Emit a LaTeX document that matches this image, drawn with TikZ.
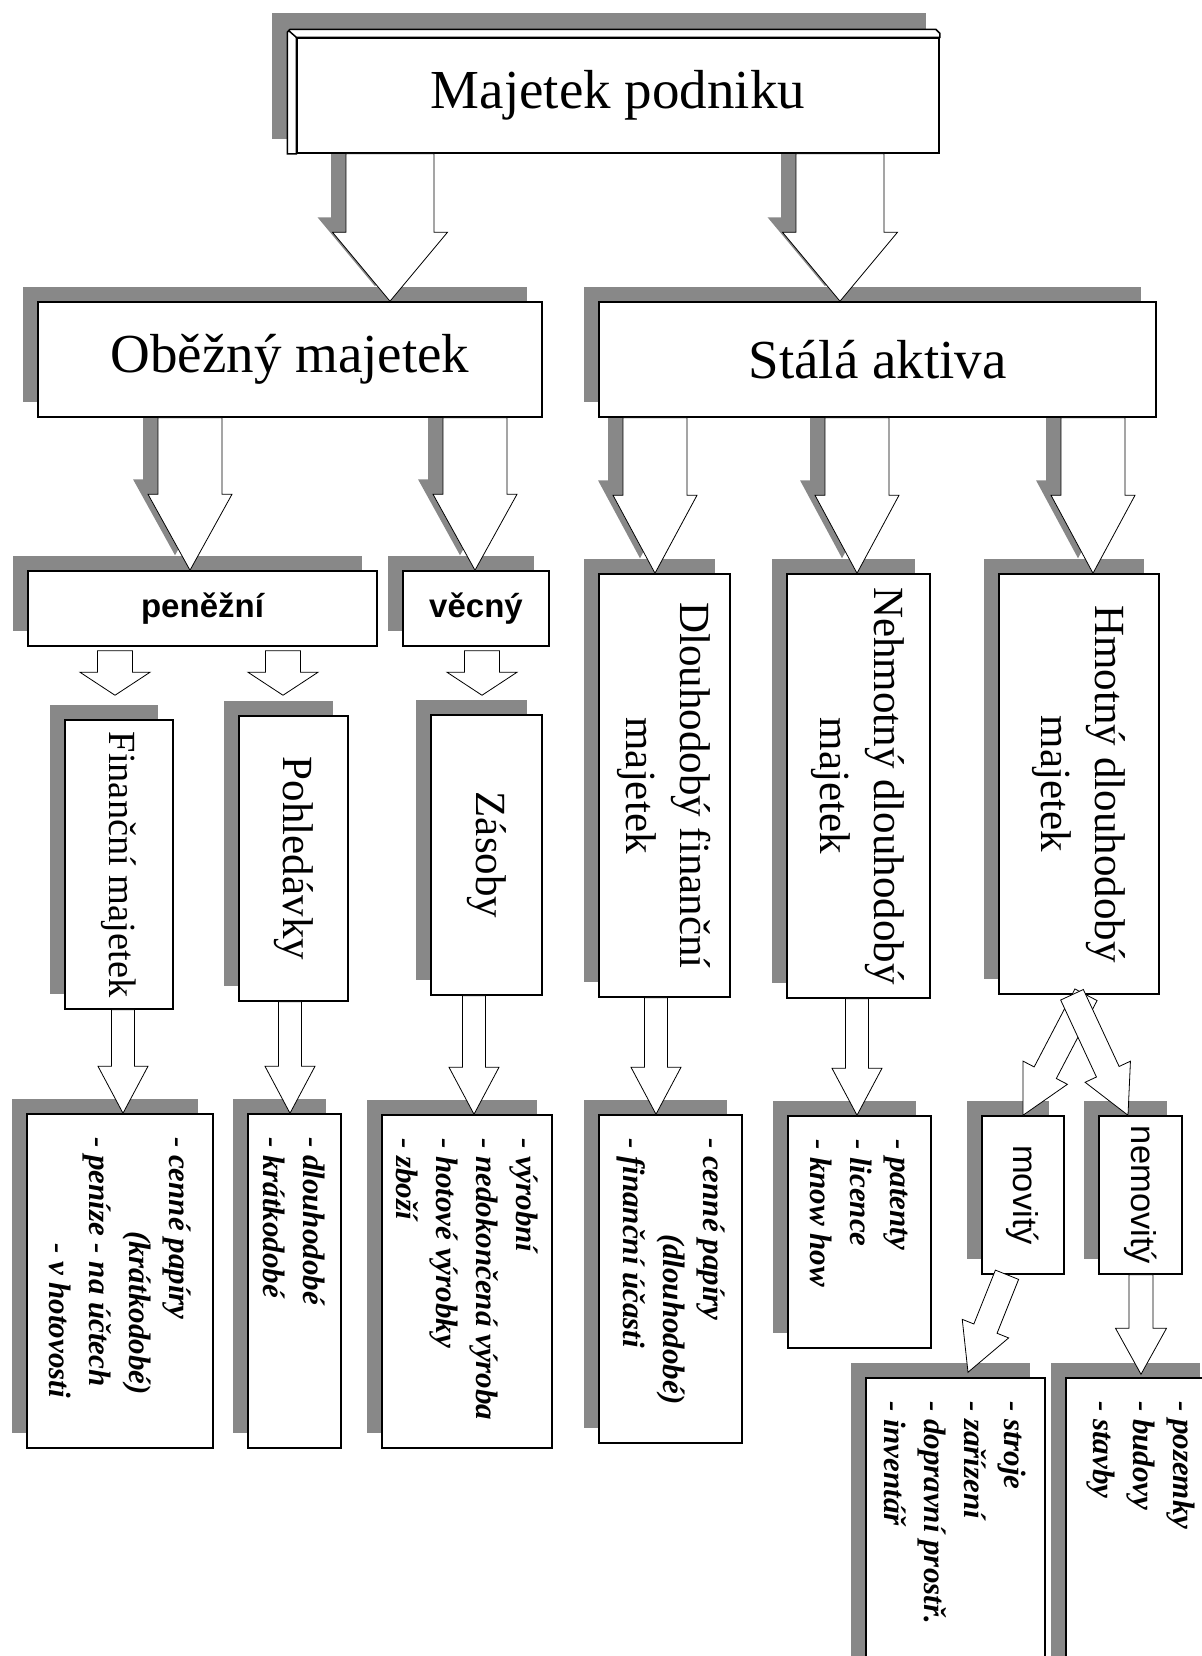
\documentclass[tikz,border=0pt]{standalone}
\usepackage{fontspec}
\usepackage{graphicx}
\setmainfont{Liberation Serif}
\newfontfamily\arialfont{Liberation Sans}
\usetikzlibrary{calc,shadows}

\definecolor{shgray}{RGB}{136,136,136}
\pgfdeclarelayer{bg}
\pgfsetlayers{bg,main}

\tikzset{every picture/.style={line width=0.75pt}}
\tikzset{
	shbox/.style={draw, fill=white, inner sep=0pt, drop shadow={shadow xshift=-7.5pt, shadow yshift=7.5pt, fill=shgray, opacity=1}},
	bigtext/.style={font=\fontsize{27.5}{33}\selectfont},
	vtext/.style={font=\fontsize{21.5}{27}\selectfont},
	boldsans/.style={font=\arialfont\bfseries\fontsize{16.5}{20}\selectfont},
	plainsans/.style={font=\arialfont\fontsize{17.25}{20}\selectfont},
	blok/.style={draw, fill=white, line join=miter},
	blokshadow/.style={fill=shgray},
}

% block arrow: start, tip, shaft half width, head half width, head length
\newcommand{\blokarrow}[6][blok]{%
	\path ($(#3)!#6!(#2)$) coordinate (ahd);
	\path[#1] ($(#2)!#4!90:(#3)$) -- ($(ahd)!#4!90:(#3)$) -- ($(ahd)!#5!90:(#3)$) -- (#3)
		-- ($(ahd)!#5!-90:(#3)$) -- ($(ahd)!#4!-90:(#3)$) -- ($(#2)!#4!-90:(#3)$) -- cycle;
}
\newcommand{\blokshadow}[5]{%
	\coordinate (shs) at ($(#1)+(-15,-15)$);
	\coordinate (sht) at ($(#2)+(-15,-15)$);
	\blokarrow[blokshadow]{shs}{sht}{#3}{#4}{#5}
}
\newcommand{\vtxt}[1]{\rotatebox{-90}{\begin{tabular}{@{}c@{}}#1\end{tabular}}}
\newcommand{\vlst}[2]{\rotatebox{-90}{\parbox{#1}{\raggedright\fontsize{15.5}{20}\selectfont\bfseries\itshape #2}}}

\begin{document}
\begin{tikzpicture}[x=0.5pt,y=0.5pt,yscale=-1,xscale=1]
	\useasboundingbox (0,0) rectangle (1201,1656);

	%Shape: Bevel [top]
	\node[draw, fill=white, inner sep=0pt, minimum width=321pt, minimum height=57.5pt, bigtext] (maj) at (618,95.5) {\raisebox{-2pt}{Majetek podniku}};
	\draw[fill=white] ($(maj.south west)+(-9,0)$) -- ($(maj.north west)+(-9,-5)$) -- ($(maj.north west)+(-6,-8)$) -- ($(maj.north east)+(-4,-8)$) -- ($(maj.north east)+(0,-4)$) -- (maj.north east) -- (maj.north west) -- (maj.south west) -- cycle;
	\draw ($(maj.north west)+(-8,-7)$) -- (maj.north west);

	%Shape: Rectangle [second row]
	\node[shbox, minimum width=252pt, minimum height=57.5pt, bigtext] (oby) at (290,359.5) {Oběžný majetek};
	\node[shbox, minimum width=278.5pt, minimum height=57.5pt, bigtext] (sta) at (877.5,359.5) {Stálá aktiva};

	%Shape: Rectangle [third row]
	\node[shbox, minimum width=174.5pt, minimum height=37.5pt, boldsans] (pen) at (202.5,608.5) {peněžní};
	\node[shbox, minimum width=73pt, minimum height=37.5pt, boldsans] (vec) at (476,608.5) {věcný};
	\node[shbox, minimum width=65.5pt, minimum height=211.5pt, vtext] (dlf) at (664.5,785.5) {\vtxt{Dlouhodobý finanční\\majetek}};
	\node[shbox, minimum width=71.5pt, minimum height=212pt, vtext] (neh) at (858.5,786) {\vtxt{Nehmotný dlouhodobý\\majetek}};
	\node[shbox, minimum width=80pt, minimum height=210pt, vtext] (hmo) at (1079,784) {\vtxt{Hmotný dlouhodobý\\majetek}};

	%Shape: Rectangle [fourth row]
	\node[shbox, minimum width=54pt, minimum height=144.5pt, font=\fontsize{19.2}{23}\selectfont] (fin) at (119,864.5) {\rotatebox{-90}{Finanční majetek}};
	\node[shbox, minimum width=54.5pt, minimum height=142.5pt, vtext] (poh) at (293.5,858.5) {\rotatebox{-90}{Pohledávky}};
	\node[shbox, minimum width=55.5pt, minimum height=140pt, vtext] (zas) at (486.5,855) {\rotatebox{-90}{Zásoby}};
	\node[shbox, minimum width=41pt, minimum height=79pt, plainsans] (mov) at (1023,1195) {\rotatebox{-90}{movitý}};
	\node[shbox, minimum width=41.5pt, minimum height=79pt, plainsans] (nem) at (1140.5,1195) {\rotatebox{-90}{nemovitý}};

	%Shape: Rectangle [lists]
	\node[shbox, minimum width=93pt, minimum height=167pt] (l1) at (120,1281) {\vlst{144pt}{- cenné papíry\\\hspace*{47pt}(krátkodobé)\\- peníze - na účtech\\\hspace*{53pt}- v hotovosti}};
	\node[shbox, minimum width=46.5pt, minimum height=167pt] (l2) at (294.5,1281) {\vlst{144pt}{- dlouhodobé\\- krátkodobé}};
	\node[shbox, minimum width=85pt, minimum height=166.5pt] (l3) at (467,1281.5) {\vlst{143.5pt}{- výrobní\\- nedokončená výroba\\- hotové výrobky\\- zboží}};
	\node[shbox, minimum width=71.5pt, minimum height=164pt] (l4) at (670.5,1279) {\vlst{141pt}{- cenné papíry\\\hspace*{48pt}(dlouhodobé)\\- finanční účasti}};
	\node[shbox, minimum width=71.5pt, minimum height=116pt] (l5) at (859.5,1232) {\vlst{93pt}{- patenty\\- licence\\- know how}};
	\node[shbox, minimum width=89.5pt, minimum height=161pt] (l6) at (955.5,1539) {\vlst{138pt}{- stroje\\- zařízení\\- dopravní prostř.\\- inventář}};
	\node[shbox, minimum width=74.5pt, minimum height=161pt] (l7) at (1140.5,1539) {\vlst{138pt}{- pozemky\\- budovy\\- stavby}};

	%Block Arrow [ends]
	\coordinate (a1s) at (390,0 |- maj.south);
	\coordinate (a1t) at (390,0 |- oby.north);
	\coordinate (a2s) at (840,0 |- maj.south);
	\coordinate (a2t) at (840,0 |- sta.north);
	\coordinate (b1s) at (190,0 |- oby.south);
	\coordinate (b1t) at (190,0 |- pen.north);
	\coordinate (b2s) at (475,0 |- oby.south);
	\coordinate (b2t) at (475,0 |- vec.north);
	\coordinate (b3s) at (655,0 |- sta.south);
	\coordinate (b3t) at (655,0 |- dlf.north);
	\coordinate (b4s) at (857,0 |- sta.south);
	\coordinate (b4t) at (857,0 |- neh.north);
	\coordinate (b5s) at (1093,0 |- sta.south);
	\coordinate (b5t) at (1093,0 |- hmo.north);
	\path (115,0 |- pen.south) ++(0,4) coordinate (s1s);
	\path (115,0 |- fin.north) ++(0,-24) coordinate (s1t);
	\path (283,0 |- pen.south) ++(0,4) coordinate (s2s);
	\path (283,0 |- poh.north) ++(0,-20) coordinate (s2t);
	\path (482,0 |- vec.south) ++(0,4) coordinate (s3s);
	\path (482,0 |- zas.north) ++(0,-19) coordinate (s3t);
	\coordinate (c1s) at (123,0 |- fin.south);
	\coordinate (c1t) at (123,0 |- l1.north);
	\coordinate (c2s) at (290,0 |- poh.south);
	\coordinate (c2t) at (290,0 |- l2.north);
	\coordinate (c3s) at (474,0 |- zas.south);
	\coordinate (c3t) at (474,0 |- l3.north);
	\coordinate (c4s) at (656,0 |- dlf.south);
	\coordinate (c4t) at (656,0 |- l4.north);
	\coordinate (c5s) at (857,0 |- neh.south);
	\coordinate (c5t) at (857,0 |- l5.north);
	\coordinate (d1s) at (1086,0 |- hmo.south);
	\coordinate (d2s) at (1072,0 |- hmo.south);
	\coordinate (d2t) at (1128,0 |- nem.north);
	\coordinate (d3s) at (1007,0 |- mov.south);
	\path (968,0 |- l6.north) ++(0,-5) coordinate (d3t);
	\coordinate (d4s) at (1141,0 |- nem.south);
	\path (1141,0 |- l7.north) ++(0,-3) coordinate (d4t);

	%Shadows
	\begin{pgfonlayer}{bg}
		\fill[shgray] ($(maj.north west)+(-24,-24)$) rectangle ($(maj.south east)+(-14,-15)$);
		\blokshadow{a1s}{a1t}{22pt}{28.75pt}{34.5pt}
		\blokshadow{a2s}{a2t}{22pt}{28.75pt}{34.5pt}
		\blokshadow{b1s}{b1t}{16pt}{21pt}{38pt}
		\blokshadow{b2s}{b2t}{16pt}{21pt}{38pt}
		\blokshadow{b3s}{b3t}{16pt}{21pt}{39pt}
		\blokshadow{b4s}{b4t}{16pt}{21pt}{39pt}
		\blokshadow{b5s}{b5t}{16pt}{21pt}{39pt}
	\end{pgfonlayer}

	%Block Arrows
	\blokarrow{a1s}{a1t}{22pt}{28.75pt}{34.5pt}
	\blokarrow{a2s}{a2t}{22pt}{28.75pt}{34.5pt}
	\blokarrow{b1s}{b1t}{16pt}{21pt}{38pt}
	\blokarrow{b2s}{b2t}{16pt}{21pt}{38pt}
	\blokarrow{b3s}{b3t}{16pt}{21pt}{39pt}
	\blokarrow{b4s}{b4t}{16pt}{21pt}{39pt}
	\blokarrow{b5s}{b5t}{16pt}{21pt}{39pt}
	\blokarrow{s1s}{s1t}{8.75pt}{17.5pt}{11.5pt}
	\blokarrow{s2s}{s2t}{8.75pt}{17.5pt}{11.5pt}
	\blokarrow{s3s}{s3t}{8.75pt}{17.5pt}{11.5pt}
	\blokarrow{c1s}{c1t}{5.75pt}{12.5pt}{23.5pt}
	\blokarrow{c2s}{c2t}{5.75pt}{12.5pt}{23.5pt}
	\blokarrow{c3s}{c3t}{5.75pt}{12.5pt}{23.5pt}
	\blokarrow{c4s}{c4t}{5.75pt}{12.5pt}{23.5pt}
	\blokarrow{c5s}{c5t}{5.75pt}{12.5pt}{23.5pt}
	\blokarrow{d1s}{mov.north}{6.25pt}{12.5pt}{24pt}
	\blokarrow{d2s}{d2t}{6.25pt}{12.5pt}{24pt}
	\blokarrow{d3s}{d3t}{6.25pt}{12.5pt}{23.5pt}
	\blokarrow{d4s}{d4t}{6pt}{12.75pt}{23pt}
\end{tikzpicture}
\end{document}
